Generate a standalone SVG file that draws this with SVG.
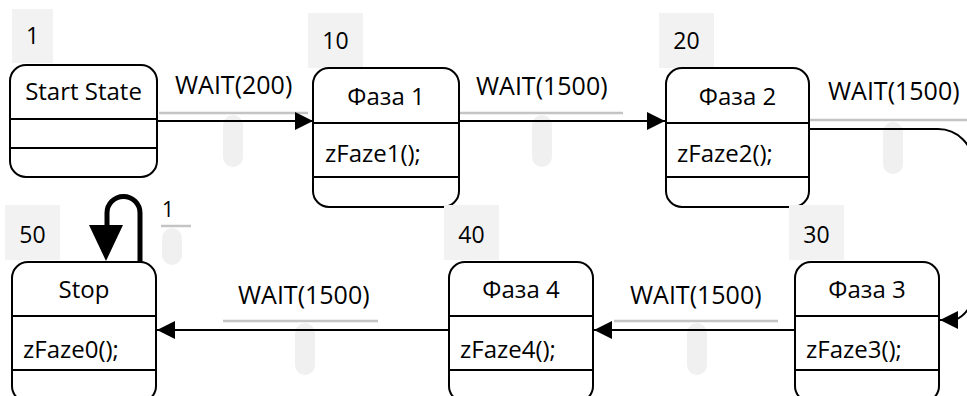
<svg xmlns="http://www.w3.org/2000/svg" width="967" height="396" viewBox="0 0 967 396">
<style>
text{font-family:"Open Sans","Liberation Sans",sans-serif;fill:#000}
.t{font-size:24px}
.w{font-size:25px}
.n{font-size:23px;text-anchor:middle}
.c{text-anchor:middle}
.box{fill:#fff;stroke:#000;stroke-width:2}
.div{stroke:#000;stroke-width:2}
.tag{fill:#f2f2f2}
.gl{stroke:#c4c4c4;stroke-width:2.5;fill:none}
.pill{fill:#f0f0f0}
.con{stroke:#000;stroke-width:2;fill:none}
</style>
<defs>
<marker id="ah" markerUnits="userSpaceOnUse" markerWidth="18" markerHeight="18" viewBox="0 0 16 16" refX="16" refY="8" orient="auto">
<path d="M0,0 L16,8 L0,16 Z" fill="#000"/>
</marker>
</defs>
<rect width="967" height="396" fill="#fff"/>
<g id="decor">
<rect class="pill" x="223" y="115" width="20" height="52" rx="10"/>
<rect class="pill" x="532" y="115" width="20" height="52" rx="10"/>
<rect class="pill" x="883" y="122" width="20" height="52" rx="10"/>
<rect class="pill" x="295" y="323" width="20" height="52" rx="10"/>
<rect class="pill" x="687" y="323" width="20" height="52" rx="10"/>
<rect class="pill" x="162" y="228" width="20" height="37" rx="10"/>
<line class="gl" x1="159" y1="113" x2="308" y2="113"/>
<line class="gl" x1="460" y1="113" x2="623" y2="113"/>
<line class="gl" x1="809" y1="120" x2="967" y2="120"/>
<line class="gl" x1="223" y1="321" x2="378" y2="321"/>
<line class="gl" x1="614" y1="321" x2="778" y2="321"/>
<line class="gl" x1="161" y1="226" x2="191" y2="226"/>
</g>
<g id="connectors">
<line class="con" x1="157" y1="121" x2="313" y2="121" marker-end="url(#ah)"/>
<line class="con" x1="459" y1="121" x2="665" y2="121" marker-end="url(#ah)"/>
<path class="con" d="M809,129 H938 A35,35 0 0 1 973,164 V290 A30,30 0 0 1 955,320 H940" marker-end="url(#ah)"/>
<line class="con" x1="795" y1="330" x2="594" y2="330" marker-end="url(#ah)"/>
<line class="con" x1="449" y1="330" x2="157" y2="330" marker-end="url(#ah)"/>
<path d="M140,262 V213 A16.5,16.5 0 0 0 107,213 V228" fill="none" stroke="#000" stroke-width="5"/>
<polygon points="89,225 123,225 106,261" fill="#000"/>
<text class="w" x="175" y="94">WAIT(200)</text>
<text class="w" x="476" y="95">WAIT(1500)</text>
<text class="w" x="828" y="100">WAIT(1500)</text>
<text class="w" x="238" y="304">WAIT(1500)</text>
<text class="w" x="630" y="304">WAIT(1500)</text>
<text x="162" y="217" style="font-size:21px">1</text>
</g>
<g id="n1">
<rect class="tag" x="12" y="9" width="41" height="54"/>
<text class="n" x="32.5" y="44">1</text>
<rect class="box" x="10" y="65" width="147" height="112" rx="16"/>
<line class="div" x1="10" y1="119" x2="157" y2="119"/>
<line class="div" x1="10" y1="148" x2="157" y2="148"/>
<text class="t c" x="83.5" y="100">Start State</text>
</g>
<g id="n10">
<rect class="tag" x="308" y="13" width="55" height="55"/>
<text class="n" x="335.5" y="49">10</text>
<rect class="box" x="313" y="68" width="146" height="139" rx="16"/>
<line class="div" x1="313" y1="123" x2="459" y2="123"/>
<line class="div" x1="313" y1="177" x2="459" y2="177"/>
<text class="t c" x="386" y="105">Фаза 1</text>
<text class="t" x="325" y="162">zFaze1();</text>
</g>
<g id="n20">
<rect class="tag" x="659" y="13" width="55" height="55"/>
<text class="n" x="686.5" y="49">20</text>
<rect class="box" x="666" y="68" width="143" height="139" rx="16"/>
<line class="div" x1="666" y1="123" x2="809" y2="123"/>
<line class="div" x1="666" y1="177" x2="809" y2="177"/>
<text class="t c" x="737.5" y="105">Фаза 2</text>
<text class="t" x="677" y="162">zFaze2();</text>
</g>
<g id="n30">
<rect class="tag" x="789" y="205" width="55" height="55"/>
<text class="n" x="816.5" y="243">30</text>
<rect class="box" x="795" y="262" width="144" height="140" rx="16"/>
<line class="div" x1="795" y1="316" x2="939" y2="316"/>
<line class="div" x1="795" y1="370" x2="939" y2="370"/>
<text class="t c" x="867" y="298">Фаза 3</text>
<text class="t" x="806" y="358">zFaze3();</text>
</g>
<g id="n40">
<rect class="tag" x="444" y="205" width="55" height="55"/>
<text class="n" x="471.5" y="243">40</text>
<rect class="box" x="449" y="262" width="144" height="140" rx="16"/>
<line class="div" x1="449" y1="316" x2="593" y2="316"/>
<line class="div" x1="449" y1="370" x2="593" y2="370"/>
<text class="t c" x="521" y="298">Фаза 4</text>
<text class="t" x="460" y="358">zFaze4();</text>
</g>
<g id="n50">
<rect class="tag" x="5" y="205" width="55" height="55"/>
<text class="n" x="32.5" y="243">50</text>
<rect class="box" x="12" y="262" width="144" height="140" rx="16"/>
<line class="div" x1="12" y1="316" x2="156" y2="316"/>
<line class="div" x1="12" y1="370" x2="156" y2="370"/>
<text class="t c" x="84" y="298">Stop</text>
<text class="t" x="23" y="358">zFaze0();</text>
</g>
</svg>
